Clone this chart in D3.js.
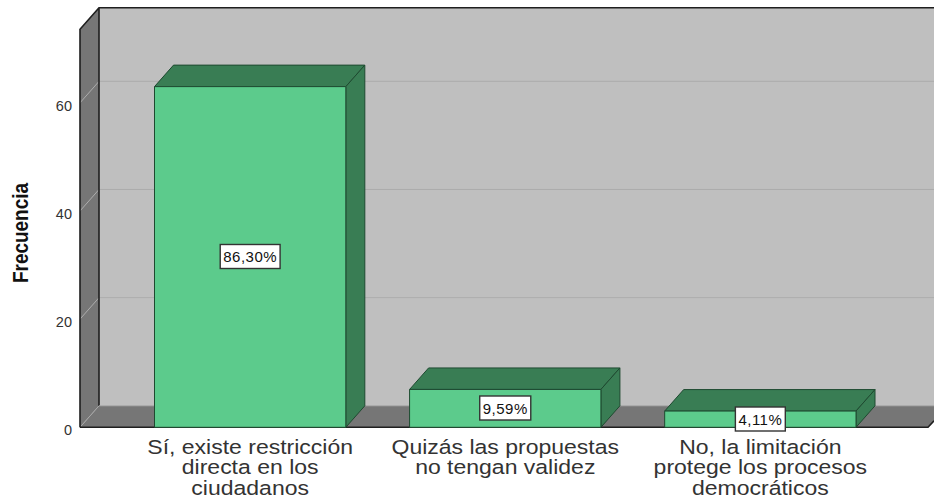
<!DOCTYPE html>
<html><head><meta charset="utf-8">
<script src="https://cdn.jsdelivr.net/npm/d3@7"></script>
<style>html,body{margin:0;padding:0;background:#fff;overflow:hidden}svg{display:block}text{font-family:"Liberation Sans",Arial,sans-serif}</style>
</head><body><svg id="c" width="934" height="499"></svg>
<script>
const categoryLines = [
  ["Sí, existe restricción","directa en los","ciudadanos"],
  ["Quizás las propuestas","no tengan validez"],
  ["No, la limitación","protege los procesos","democráticos"]
];
const categories = ["a","b","c"];
const frequencies = [63, 7, 3];
const percentLabels = ["86,30%","9,59%","4,11%"];
const yTicks = [0, 20, 40, 60];
const yMax = 73.6;

const svg = d3.select("#c");
const y = d3.scaleLinear().domain([0, yMax]).range([427.3, 29.3]);
const x = d3.scaleBand().domain(categories).range([154.5, 856]).paddingInner(0.25);
const dx = 19, dy = -21.5;
const plotL = 80, plotR = 928;
const edge = "#1f1f1f";
const poly = (pts, fill, stroke, sw=1) => svg.append("polygon")
  .attr("points", pts.map(p=>p.join(",")).join(" "))
  .attr("fill", fill).attr("stroke", stroke||"none").attr("stroke-width", sw).attr("stroke-linejoin","round");

// back wall
poly([[plotL+dx,y(yMax)+dy],[plotR+dx+20,y(yMax)+dy],[plotR+dx+20,y(0)+dy],[plotL+dx,y(0)+dy]],"#bfbfbf");
// left wall and floor
poly([[plotL,y(yMax)],[plotL+dx,y(yMax)+dy],[plotL+dx,y(0)+dy],[plotL,y(0)]],"#767676");
poly([[plotL,y(0)],[plotL+dx,y(0)+dy],[plotR+dx,y(0)+dy],[plotR,y(0)]],"#767676");

// gridlines
yTicks.filter(d=>d>0).forEach(t=>{
  svg.append("path").attr("fill","none").attr("stroke","#adadad").attr("stroke-width",1)
    .attr("d",`M${plotL},${y(t)}L${plotL+dx},${y(t)+dy}L${934},${y(t)+dy}`);
});
svg.append("line").attr("x1",plotL).attr("y1",y(0)).attr("x2",plotL+dx).attr("y2",y(0)+dy).attr("stroke","#a8a8a8");

// frame
svg.append("path").attr("fill","none").attr("stroke",edge).attr("stroke-width",1.6)
  .attr("d",`M${plotL},${y(0)}L${plotL},${y(yMax)}L${plotL+dx},${y(yMax)+dy}L934,${y(yMax)+dy}M${plotL+dx},${y(yMax)+dy}L${plotL+dx},${y(0)+dy}`);
svg.append("line").attr("x1",plotL+dx).attr("y1",y(0)+dy).attr("x2",934).attr("y2",y(0)+dy).attr("stroke","#a6a6a6");
svg.append("path").attr("fill","none").attr("stroke",edge).attr("stroke-width",1.6)
  .attr("d",`M${plotL},${y(0)}L${plotR},${y(0)}L934,${y(0)-6.5}`);

// bars
categories.forEach((c,i)=>{
  const l=x(c), r=l+x.bandwidth(), t=y(frequencies[i]), b=y(0);
  poly([[l,t],[l+dx,t+dy],[r+dx,t+dy],[r,t]],"#397d54","#1e4a30");
  poly([[r,t],[r+dx,t+dy],[r+dx,b+dy],[r,b]],"#397d54","#1e4a30");
  poly([[l,t],[r,t],[r,b],[l,b]],"#5ccb8c","#1e4a30");
});

// y tick labels
svg.selectAll("text.yt").data(yTicks).join("text").attr("class","yt")
  .attr("x",72).attr("y",d=>y(d)+8).attr("text-anchor","end")
  .attr("font-size",14.5).attr("fill","#333").text(d=>d);

// y title
svg.append("text").attr("transform","translate(28,233) rotate(-90)")
  .attr("text-anchor","middle").attr("font-size",22).attr("font-weight","bold").attr("fill","#111")
  .attr("textLength",100).attr("lengthAdjust","spacingAndGlyphs").text("Frecuencia");

// category labels
categories.forEach((c,i)=>{
  const cx=x(c)+x.bandwidth()/2;
  categoryLines[i].forEach((line,j)=>{
    svg.append("text").attr("transform",`translate(${cx},${453.5+j*20.5}) scale(1.18,1)`).attr("text-anchor","middle")
      .attr("font-size",19.5).attr("fill","#333").text(line);
  });
});

// value labels
categories.forEach((c,i)=>{
  const cx=x(c)+x.bandwidth()/2;
  const yc = [256.5,408,419][i];
  const g=svg.append("g");
  const t=g.append("text").attr("x",cx).attr("y",yc+5.5).attr("text-anchor","middle")
    .attr("font-size",15).attr("letter-spacing",0.5).attr("fill","#111").text(percentLabels[i]);
  const w=t.node().getComputedTextLength()+6;
  g.insert("rect","text").attr("x",cx-w/2).attr("y",yc-12).attr("width",w).attr("height",24)
    .attr("fill","#fff").attr("stroke","#333").attr("stroke-width",1.4);
});
</script></body></html>
